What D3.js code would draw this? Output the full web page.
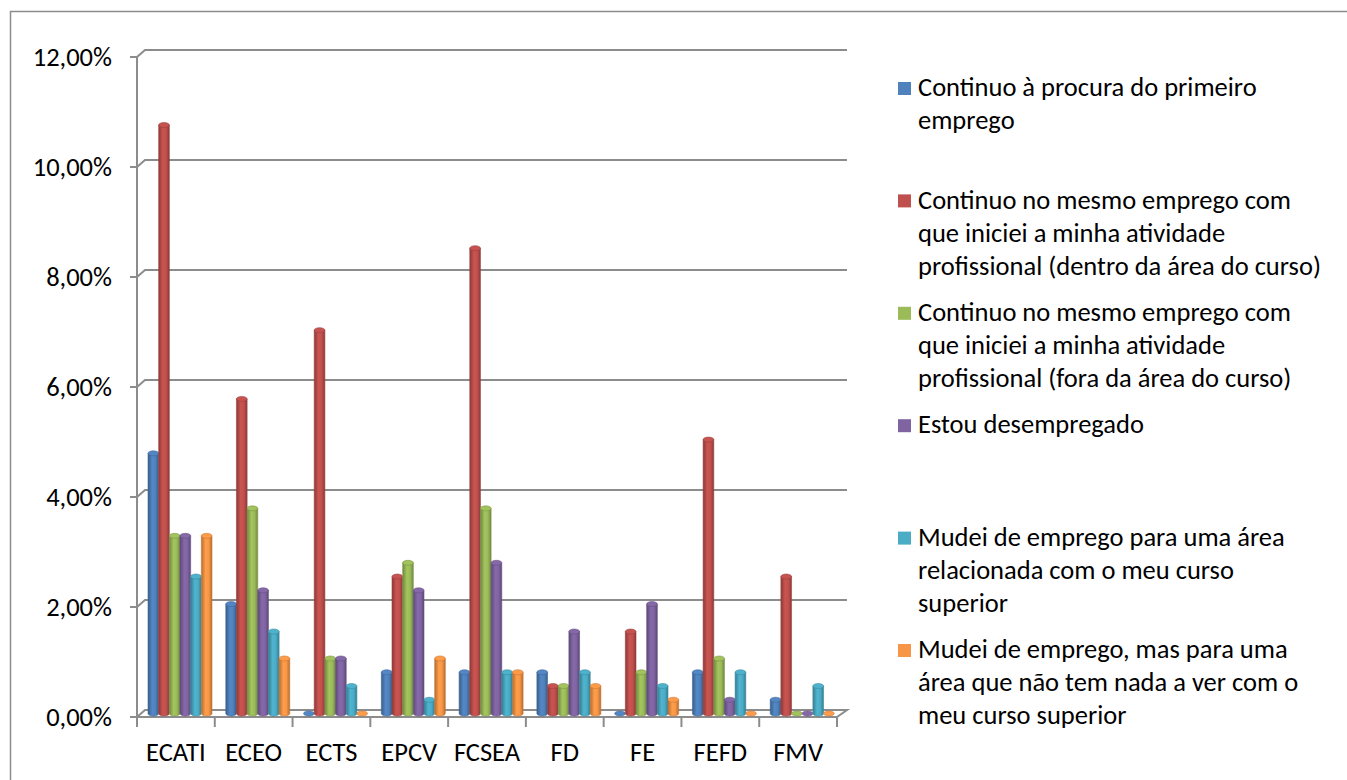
<!DOCTYPE html>
<html>
<head>
<meta charset="utf-8">
<script src="https://cdn.jsdelivr.net/npm/d3@7"></script>
<style>
  body { margin: 0; background: #fff; }
  svg text { font-family: Carlito, Lato, "Liberation Sans", sans-serif; fill: #000; }
</style>
</head>
<body>
<svg id="chart" width="1347" height="780"></svg>
<script>
// categorias (faculdades / escolas)
const categories = ["ECATI", "ECEO", "ECTS", "EPCV", "FCSEA", "FD", "FE", "FEFD", "FMV"];

// séries (legenda)
const seriesNames = [
  "Continuo à procura do primeiro emprego",
  "Continuo no mesmo emprego com que iniciei a minha atividade profissional (dentro da área do curso)",
  "Continuo no mesmo emprego com que iniciei a minha atividade profissional (fora da área do curso)",
  "Estou desempregado",
  "Mudei de emprego para uma área relacionada com o meu curso superior",
  "Mudei de emprego, mas para uma área que não tem nada a ver com o meu curso superior"
];

// linhas da legenda (quebras como no original)
const legendLines = [
  ["Continuo à procura do primeiro", "emprego"],
  ["Continuo no mesmo emprego com", "que iniciei a minha atividade", "profissional (dentro da área do curso)"],
  ["Continuo no mesmo emprego com", "que iniciei a minha atividade", "profissional (fora da área do curso)"],
  ["Estou desempregado"],
  ["Mudei de emprego para uma área", "relacionada com o meu curso", "superior"],
  ["Mudei de emprego, mas para uma", "área que não tem nada a ver com o", "meu curso superior"]
];

// valores em % por série
const procuraPrimeiro = [4.73, 1.99, 0.00, 0.75, 0.75, 0.75, 0.00, 0.75, 0.25];
const mesmoDentro     = [10.70, 5.72, 6.97, 2.49, 8.46, 0.50, 1.49, 4.98, 2.49];
const mesmoFora       = [3.23, 3.73, 1.00, 2.74, 3.73, 0.50, 0.75, 1.00, 0.00];
const desempregado    = [3.23, 2.24, 1.00, 2.24, 2.74, 1.49, 1.99, 0.25, 0.00];
const mudeiRelacionada = [2.49, 1.49, 0.50, 0.25, 0.75, 0.75, 0.50, 0.75, 0.50];
const mudeiOutra      = [3.23, 1.00, 0.00, 1.00, 0.75, 0.50, 0.25, 0.00, 0.00];

const yTicks = [0, 2, 4, 6, 8, 10, 12];

const seriesValues = [procuraPrimeiro, mesmoDentro, mesmoFora, desempregado, mudeiRelacionada, mudeiOutra];
const colors = ["#4F81BD", "#C0504D", "#9BBB59", "#8064A2", "#4BACC6", "#F79646"];

const svg = d3.select("#chart");
const locale = d3.formatLocale({ decimal: ",", thousands: ".", grouping: [3], currency: ["", "€"] });
const fmt = v => locale.format(".2f")(v) + "%";
const fontSize = 26.5;

// moldura exterior
svg.append("rect")
  .attr("x", 10.5).attr("y", 11.5)
  .attr("width", 1400).attr("height", 800)
  .attr("fill", "none").attr("stroke", "#8c8c8c").attr("stroke-width", 1.5);

// escalas (plano da frente) + profundidade 3D
const x = d3.scaleBand().domain(categories).range([137, 837]);
const y = d3.scaleLinear().domain([0, 12]).range([717, 57]);
const dx = 8, dy = -7;
const xs = d3.scaleBand().domain(d3.range(seriesNames.length)).range([7, 71]);

const grid = svg.append("g").attr("stroke", "#8c8c8c").attr("fill", "none").attr("stroke-width", 2);

// linhas de grelha na parede de trás
grid.selectAll(".grid")
  .data(yTicks.filter(t => t > 0))
  .enter().append("path")
  .attr("d", t => `M${x.range()[0]},${y(t)} L${x.range()[0] + dx},${y(t) + dy} L${x.range()[1] + dx + 2},${y(t) + dy}`);

// chão
const x0 = x.range()[0], x1 = x.range()[1];
grid.append("path")
  .attr("d", `M${x0},${y(0)} L${x0 + dx},${y(0) + dy} L${x1 + dx + 2},${y(0) + dy} L${x1},${y(0)} Z`);

// eixo vertical com marcas
grid.append("line").attr("x1", x0).attr("x2", x0).attr("y1", y(12)).attr("y2", y(0));
grid.selectAll(".ytick")
  .data(yTicks)
  .enter().append("line")
  .attr("x1", x0 - 7).attr("x2", x0)
  .attr("y1", d => y(d)).attr("y2", d => y(d));

// marcas das categorias
grid.selectAll(".xtick")
  .data(categories.concat(["_end"]))
  .enter().append("line")
  .attr("x1", (d, i) => x0 + i * x.bandwidth())
  .attr("x2", (d, i) => x0 + i * x.bandwidth())
  .attr("y1", y(0)).attr("y2", y(0) + 10);

// rótulos eixo y
svg.selectAll(".ylabel")
  .data(yTicks)
  .enter().append("text")
  .attr("x", 112)
  .attr("y", d => y(d))
  .attr("dy", "0.35em")
  .attr("text-anchor", "end")
  .attr("font-size", fontSize)
  .text(d => fmt(d));

// rótulos categorias
svg.selectAll(".xlabel")
  .data(categories)
  .enter().append("text")
  .attr("x", d => x(d) + x.bandwidth() / 2)
  .attr("y", 752)
  .attr("dy", "0.35em")
  .attr("text-anchor", "middle")
  .attr("font-size", fontSize)
  .text(d => d);

// gradientes cilíndricos
const defs = svg.append("defs");
colors.forEach((c, i) => {
  const g = defs.append("linearGradient").attr("id", "cyl" + i).attr("x1", "0").attr("x2", "1").attr("y1", "0").attr("y2", "0");
  const base = d3.color(c);
  g.append("stop").attr("offset", "0%").attr("stop-color", base.darker(0.9));
  g.append("stop").attr("offset", "40%").attr("stop-color", base.brighter(0.15));
  g.append("stop").attr("offset", "70%").attr("stop-color", base);
  g.append("stop").attr("offset", "100%").attr("stop-color", base.darker(0.9));
});

// barras (cilindros)
const bars = [];
seriesValues.forEach((vals, s) => {
  vals.forEach((v, c) => bars.push({ s, cat: categories[c], v }));
});
const bw = xs.bandwidth();
const barY = v => y(v) + dy / 2;
const barX = d => x(d.cat) + xs(d.s) + dx / 2;

const barG = svg.append("g");
const cyl = barG.selectAll(".bar").data(bars).enter().append("g");

cyl.filter(d => d.v > 0).append("path")
  .attr("d", d => {
    const l = barX(d), r = l + bw, t = barY(d.v), b = barY(0);
    return `M${l},${t} L${l},${b} A${bw / 2},2.5 0 0 0 ${r},${b} L${r},${t} Z`;
  })
  .attr("fill", d => `url(#cyl${d.s})`)
  .attr("stroke", d => d3.color(colors[d.s]).darker(0.6))
  .attr("stroke-width", 0.6);

cyl.append("ellipse")
  .attr("cx", d => barX(d) + bw / 2)
  .attr("cy", d => barY(d.v))
  .attr("rx", bw / 2)
  .attr("ry", 2.5)
  .attr("fill", d => d3.color(colors[d.s]).brighter(0.1))
  .attr("stroke", d => d3.color(colors[d.s]).darker(0.6))
  .attr("stroke-width", 0.6);

// legenda
const legend = svg.append("g");
const legendTop = 87, legendStep = 112.4, lineH = 33;
legendLines.forEach((lines, i) => {
  const yy = legendTop + i * legendStep;
  legend.append("rect")
    .attr("x", 898).attr("y", yy - 5)
    .attr("width", 13).attr("height", 13)
    .attr("fill", colors[i]);
  const t = legend.append("text")
    .attr("x", 918).attr("y", yy)
    .attr("font-size", fontSize);
  lines.forEach((ln, k) => {
    t.append("tspan").attr("x", 918).attr("y", yy + k * lineH).attr("dy", "0.35em").text(ln);
  });
});
</script>
</body>
</html>
